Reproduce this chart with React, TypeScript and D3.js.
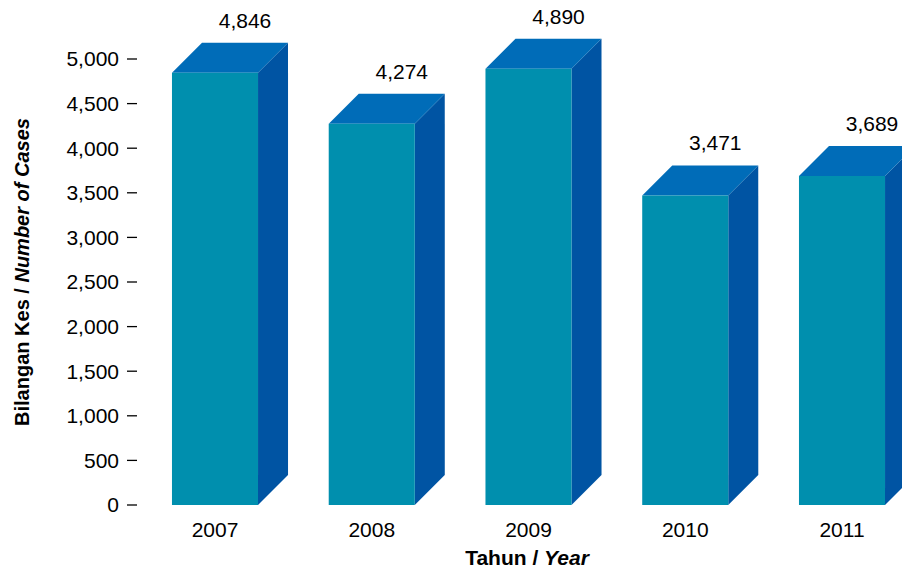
import React from "react";
import * as d3 from "d3";

const years = ["2007", "2008", "2009", "2010", "2011"];
const cases = [4846, 4274, 4890, 3471, 3689];
const yTicks = [0, 500, 1000, 1500, 2000, 2500, 3000, 3500, 4000, 4500, 5000];

const W = 902;
const H = 570;
const FONT = "'Liberation Sans Narrow', 'Arial Narrow', 'Liberation Sans', Arial, sans-serif";
const DX = 30;
const DY = 30;

export default function App() {
  const x = d3
    .scaleBand<string>()
    .domain(years)
    .range([136.625, 920.375])
    .paddingInner(0.451)
    .paddingOuter(0.2255);
  const y = d3.scaleLinear().domain([0, 5000]).range([505, 59]);
  const fmt = d3.format(",");
  const bw = x.bandwidth();

  return (
    <svg
      width={W}
      height={H}
      style={{ position: "absolute", left: 0, top: 0, background: "#fff" }}
      fontFamily={FONT}
    >
      {yTicks.map((t) => (
        <g key={t}>
          <line x1={127} x2={137} y1={y(t)} y2={y(t)} stroke="#000" strokeWidth={1.3} />
          <text x={119} y={y(t)} dy="0.35em" textAnchor="end" fontSize={21} fill="#000">
            {fmt(t)}
          </text>
        </g>
      ))}
      {years.map((yr, i) => {
        const x0 = x(yr)!;
        const x1 = x0 + bw;
        const yt = y(cases[i]);
        const yb = y(0);
        const front = `M${x0},${yt}L${x1},${yt}L${x1},${yb}L${x0},${yb}Z`;
        const side = `M${x1},${yt}L${x1 + DX},${yt - DY}L${x1 + DX},${yb - DY}L${x1},${yb}Z`;
        const top = `M${x0},${yt}L${x0 + DX},${yt - DY}L${x1 + DX},${yt - DY}L${x1},${yt}Z`;
        return (
          <g key={yr}>
            <path d={side} fill="#0054A3" />
            <path d={top} fill="#006CB8" />
            <path d={front} fill="#008FAE" />
            <text
              x={x0 + DX + bw / 2}
              y={yt - DY - 15}
              textAnchor="middle"
              fontSize={21}
              fill="#000"
            >
              {fmt(cases[i])}
            </text>
            <text x={x0 + bw / 2} y={537} textAnchor="middle" fontSize={21} fill="#000">
              {yr}
            </text>
          </g>
        );
      })}
      <text x={527} y={565} textAnchor="middle" fontSize={21} fontWeight="bold" fill="#000">
        Tahun / <tspan fontStyle="italic">Year</tspan>
      </text>
      <text
        transform="translate(29,272) rotate(-90)"
        textAnchor="middle"
        fontSize={20}
        fontWeight="bold"
        fill="#000"
      >
        Bilangan Kes / <tspan fontStyle="italic">Number of Cases</tspan>
      </text>
    </svg>
  );
}
